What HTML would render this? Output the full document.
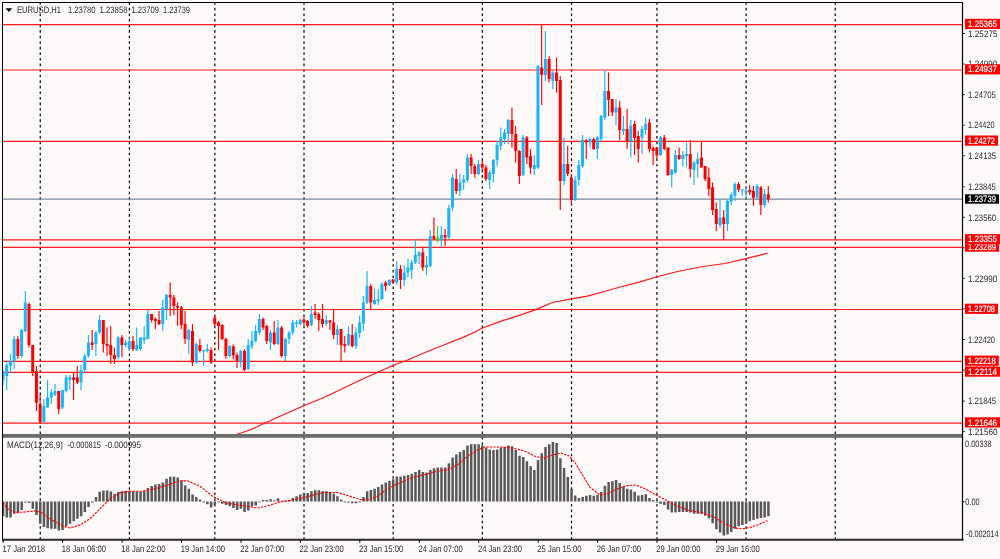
<!DOCTYPE html><html><head><meta charset="utf-8"><title>EURUSD H1</title>
<style>html,body{margin:0;padding:0;background:#fdf9f8;}body{width:1000px;height:559px;overflow:hidden;position:relative;font-family:"Liberation Sans","DejaVu Sans",sans-serif;}svg{position:absolute;left:0;top:0;}text{font-family:"Liberation Sans","DejaVu Sans",sans-serif;text-rendering:geometricPrecision;}</style></head><body>
<svg width="1000" height="559" viewBox="0 0 1000 559">
<defs><filter id="soft" x="0" y="0" width="1000" height="559" filterUnits="userSpaceOnUse" color-interpolation-filters="sRGB"><feColorMatrix type="matrix" values="1 0 0 0 0 0 1 0 0 0 0 0 1 0 0 0 0 0 1 0"/></filter></defs>
<rect x="0" y="0" width="1000" height="559" fill="#fdf9f8"/>
<g filter="url(#soft)">
<g stroke="#000" stroke-width="1.2" stroke-dasharray="2.6 2.974">
<line x1="40.25" y1="2.25" x2="40.25" y2="539.5" />
<line x1="129.41" y1="2.25" x2="129.41" y2="539.5" />
<line x1="214.85" y1="2.25" x2="214.85" y2="539.5" />
<line x1="304.01" y1="2.25" x2="304.01" y2="539.5" />
<line x1="393.18" y1="2.25" x2="393.18" y2="539.5" />
<line x1="482.33" y1="2.25" x2="482.33" y2="539.5" />
<line x1="571.50" y1="2.25" x2="571.50" y2="539.5" />
<line x1="656.94" y1="2.25" x2="656.94" y2="539.5" />
<line x1="746.10" y1="2.25" x2="746.10" y2="539.5" />
<line x1="835.26" y1="2.25" x2="835.26" y2="539.5" />
</g>
<line x1="3" y1="199.1" x2="962" y2="199.1" stroke="#7a899c" stroke-width="1.1"/>
<line x1="3" y1="24.6" x2="962" y2="24.6" stroke="#ff1a1a" stroke-width="1.15"/>
<line x1="3" y1="70.0" x2="962" y2="70.0" stroke="#ff1a1a" stroke-width="1.15"/>
<line x1="3" y1="141.3" x2="962" y2="141.3" stroke="#ff1a1a" stroke-width="1.15"/>
<line x1="3" y1="239.9" x2="962" y2="239.9" stroke="#ff1a1a" stroke-width="1.15"/>
<line x1="3" y1="247.3" x2="962" y2="247.3" stroke="#ff1a1a" stroke-width="1.15"/>
<line x1="3" y1="309.5" x2="962" y2="309.5" stroke="#ff1a1a" stroke-width="1.15"/>
<line x1="3" y1="361.4" x2="962" y2="361.4" stroke="#ff1a1a" stroke-width="1.15"/>
<line x1="3" y1="372.3" x2="962" y2="372.3" stroke="#ff1a1a" stroke-width="1.15"/>
<line x1="3" y1="423.1" x2="962" y2="423.1" stroke="#ff1a1a" stroke-width="1.15"/>
<polyline fill="none" stroke="#ff1818" stroke-width="1.25" stroke-linejoin="round" points="236.2,434.5 250.0,430.0 265.0,423.0 280.0,416.2 303.8,405.8 325.0,397.0 350.0,385.0 365.0,378.0 380.0,371.2 393.0,365.5 407.5,360.0 425.0,352.5 445.0,344.5 462.5,337.6 475.0,332.0 482.5,328.0 502.5,320.7 520.0,315.2 535.0,309.8 552.5,302.5 570.0,299.2 587.5,296.2 602.5,292.0 620.0,287.0 640.0,281.8 656.2,277.0 677.5,271.5 700.0,267.0 725.0,263.5 745.0,258.8 767.5,253.2"/>
<g>
<line x1="3.00" y1="370.0" x2="3.00" y2="385.0" stroke="#18b4fc" stroke-width="1.15"/>
<rect x="1.50" y="372.0" width="3" height="8.0" fill="#18b4fc"/>
<line x1="6.71" y1="360.3" x2="6.71" y2="390.0" stroke="#18b4fc" stroke-width="1.15"/>
<rect x="5.21" y="365.0" width="3" height="11.0" fill="#18b4fc"/>
<line x1="10.43" y1="354.0" x2="10.43" y2="372.8" stroke="#18b4fc" stroke-width="1.15"/>
<rect x="8.93" y="361.5" width="3" height="4.3" fill="#18b4fc"/>
<line x1="14.14" y1="336.0" x2="14.14" y2="369.0" stroke="#18b4fc" stroke-width="1.15"/>
<rect x="12.64" y="339.0" width="3" height="22.0" fill="#18b4fc"/>
<line x1="17.86" y1="336.0" x2="17.86" y2="359.0" stroke="#ff0000" stroke-width="1.15"/>
<rect x="16.36" y="339.0" width="3" height="17.0" fill="#ff0000"/>
<line x1="21.57" y1="329.0" x2="21.57" y2="357.5" stroke="#18b4fc" stroke-width="1.15"/>
<rect x="20.07" y="330.0" width="3" height="26.0" fill="#18b4fc"/>
<line x1="25.29" y1="291.0" x2="25.29" y2="332.5" stroke="#18b4fc" stroke-width="1.15"/>
<rect x="23.79" y="302.5" width="3" height="28.5" fill="#18b4fc"/>
<line x1="29.00" y1="302.5" x2="29.00" y2="347.5" stroke="#ff0000" stroke-width="1.15"/>
<rect x="27.50" y="304.0" width="3" height="41.0" fill="#ff0000"/>
<line x1="32.72" y1="345.0" x2="32.72" y2="376.0" stroke="#ff0000" stroke-width="1.15"/>
<rect x="31.22" y="345.0" width="3" height="27.5" fill="#ff0000"/>
<line x1="36.44" y1="366.0" x2="36.44" y2="411.0" stroke="#ff0000" stroke-width="1.15"/>
<rect x="34.94" y="371.0" width="3" height="31.7" fill="#ff0000"/>
<line x1="40.15" y1="395.0" x2="40.15" y2="424.0" stroke="#ff0000" stroke-width="1.15"/>
<rect x="38.65" y="404.0" width="3" height="18.0" fill="#ff0000"/>
<line x1="43.86" y1="399.0" x2="43.86" y2="422.5" stroke="#18b4fc" stroke-width="1.15"/>
<rect x="42.36" y="406.0" width="3" height="16.0" fill="#18b4fc"/>
<line x1="47.58" y1="380.0" x2="47.58" y2="407.5" stroke="#18b4fc" stroke-width="1.15"/>
<rect x="46.08" y="397.5" width="3" height="10.0" fill="#18b4fc"/>
<line x1="51.30" y1="389.0" x2="51.30" y2="404.0" stroke="#18b4fc" stroke-width="1.15"/>
<rect x="49.80" y="392.5" width="3" height="5.0" fill="#18b4fc"/>
<line x1="55.01" y1="384.0" x2="55.01" y2="396.0" stroke="#18b4fc" stroke-width="1.15"/>
<rect x="53.51" y="391.0" width="3" height="4.0" fill="#18b4fc"/>
<line x1="58.72" y1="391.0" x2="58.72" y2="414.0" stroke="#ff0000" stroke-width="1.15"/>
<rect x="57.22" y="391.0" width="3" height="18.0" fill="#ff0000"/>
<line x1="62.44" y1="390.0" x2="62.44" y2="409.0" stroke="#18b4fc" stroke-width="1.15"/>
<rect x="60.94" y="390.0" width="3" height="17.5" fill="#18b4fc"/>
<line x1="66.16" y1="375.0" x2="66.16" y2="392.5" stroke="#18b4fc" stroke-width="1.15"/>
<rect x="64.66" y="377.5" width="3" height="13.5" fill="#18b4fc"/>
<line x1="69.87" y1="375.0" x2="69.87" y2="390.0" stroke="#18b4fc" stroke-width="1.15"/>
<rect x="68.37" y="377.0" width="3" height="3.0" fill="#18b4fc"/>
<line x1="73.58" y1="372.5" x2="73.58" y2="400.0" stroke="#ff0000" stroke-width="1.15"/>
<rect x="72.08" y="377.5" width="3" height="2.5" fill="#ff0000"/>
<line x1="77.30" y1="366.0" x2="77.30" y2="384.0" stroke="#ff0000" stroke-width="1.15"/>
<rect x="75.80" y="377.5" width="3" height="5.0" fill="#ff0000"/>
<line x1="81.02" y1="365.0" x2="81.02" y2="390.0" stroke="#18b4fc" stroke-width="1.15"/>
<rect x="79.52" y="370.0" width="3" height="12.5" fill="#18b4fc"/>
<line x1="84.73" y1="354.0" x2="84.73" y2="372.5" stroke="#18b4fc" stroke-width="1.15"/>
<rect x="83.23" y="356.0" width="3" height="14.0" fill="#18b4fc"/>
<line x1="88.44" y1="335.0" x2="88.44" y2="357.5" stroke="#18b4fc" stroke-width="1.15"/>
<rect x="86.94" y="342.5" width="3" height="13.5" fill="#18b4fc"/>
<line x1="92.16" y1="330.0" x2="92.16" y2="350.0" stroke="#ff0000" stroke-width="1.15"/>
<rect x="90.66" y="342.5" width="3" height="2.5" fill="#ff0000"/>
<line x1="95.88" y1="331.0" x2="95.88" y2="356.0" stroke="#18b4fc" stroke-width="1.15"/>
<rect x="94.38" y="332.5" width="3" height="11.5" fill="#18b4fc"/>
<line x1="99.59" y1="315.0" x2="99.59" y2="334.0" stroke="#18b4fc" stroke-width="1.15"/>
<rect x="98.09" y="320.0" width="3" height="12.5" fill="#18b4fc"/>
<line x1="103.30" y1="320.0" x2="103.30" y2="352.5" stroke="#ff0000" stroke-width="1.15"/>
<rect x="101.80" y="320.0" width="3" height="24.0" fill="#ff0000"/>
<line x1="107.02" y1="327.5" x2="107.02" y2="356.0" stroke="#ff0000" stroke-width="1.15"/>
<rect x="105.52" y="344.0" width="3" height="2.0" fill="#ff0000"/>
<line x1="110.73" y1="326.0" x2="110.73" y2="364.0" stroke="#ff0000" stroke-width="1.15"/>
<rect x="109.23" y="345.0" width="3" height="10.0" fill="#ff0000"/>
<line x1="114.45" y1="347.5" x2="114.45" y2="364.0" stroke="#ff0000" stroke-width="1.15"/>
<rect x="112.95" y="355.0" width="3" height="4.0" fill="#ff0000"/>
<line x1="118.16" y1="336.0" x2="118.16" y2="359.0" stroke="#18b4fc" stroke-width="1.15"/>
<rect x="116.66" y="337.5" width="3" height="20.0" fill="#18b4fc"/>
<line x1="121.88" y1="335.0" x2="121.88" y2="357.0" stroke="#ff0000" stroke-width="1.15"/>
<rect x="120.38" y="337.5" width="3" height="7.5" fill="#ff0000"/>
<line x1="125.59" y1="340.0" x2="125.59" y2="347.5" stroke="#18b4fc" stroke-width="1.15"/>
<rect x="124.09" y="342.5" width="3" height="2.5" fill="#18b4fc"/>
<line x1="129.31" y1="337.5" x2="129.31" y2="350.0" stroke="#18b4fc" stroke-width="1.15"/>
<rect x="127.81" y="341.0" width="3" height="8.0" fill="#18b4fc"/>
<line x1="133.03" y1="336.0" x2="133.03" y2="351.0" stroke="#ff0000" stroke-width="1.15"/>
<rect x="131.53" y="341.0" width="3" height="8.0" fill="#ff0000"/>
<line x1="136.74" y1="327.5" x2="136.74" y2="351.0" stroke="#18b4fc" stroke-width="1.15"/>
<rect x="135.24" y="345.0" width="3" height="5.0" fill="#18b4fc"/>
<line x1="140.45" y1="337.5" x2="140.45" y2="351.0" stroke="#18b4fc" stroke-width="1.15"/>
<rect x="138.95" y="337.5" width="3" height="11.5" fill="#18b4fc"/>
<line x1="144.17" y1="326.0" x2="144.17" y2="344.0" stroke="#18b4fc" stroke-width="1.15"/>
<rect x="142.67" y="337.5" width="3" height="2.5" fill="#18b4fc"/>
<line x1="147.88" y1="310.0" x2="147.88" y2="339.0" stroke="#18b4fc" stroke-width="1.15"/>
<rect x="146.38" y="314.0" width="3" height="25.0" fill="#18b4fc"/>
<line x1="151.60" y1="314.0" x2="151.60" y2="322.5" stroke="#ff0000" stroke-width="1.15"/>
<rect x="150.10" y="314.0" width="3" height="6.0" fill="#ff0000"/>
<line x1="155.31" y1="317.5" x2="155.31" y2="329.0" stroke="#ff0000" stroke-width="1.15"/>
<rect x="153.81" y="319.0" width="3" height="2.0" fill="#ff0000"/>
<line x1="159.03" y1="311.0" x2="159.03" y2="325.0" stroke="#ff0000" stroke-width="1.15"/>
<rect x="157.53" y="320.0" width="3" height="4.0" fill="#ff0000"/>
<line x1="162.75" y1="300.0" x2="162.75" y2="331.0" stroke="#18b4fc" stroke-width="1.15"/>
<rect x="161.25" y="307.5" width="3" height="16.5" fill="#18b4fc"/>
<line x1="166.46" y1="294.0" x2="166.46" y2="320.0" stroke="#18b4fc" stroke-width="1.15"/>
<rect x="164.96" y="295.0" width="3" height="14.0" fill="#18b4fc"/>
<line x1="170.17" y1="282.5" x2="170.17" y2="316.0" stroke="#ff0000" stroke-width="1.15"/>
<rect x="168.67" y="295.0" width="3" height="2.5" fill="#ff0000"/>
<line x1="173.89" y1="295.0" x2="173.89" y2="315.0" stroke="#ff0000" stroke-width="1.15"/>
<rect x="172.39" y="297.5" width="3" height="8.5" fill="#ff0000"/>
<line x1="177.60" y1="302.5" x2="177.60" y2="326.0" stroke="#ff0000" stroke-width="1.15"/>
<rect x="176.10" y="306.0" width="3" height="1.5" fill="#ff0000"/>
<line x1="181.32" y1="306.0" x2="181.32" y2="329.0" stroke="#ff0000" stroke-width="1.15"/>
<rect x="179.82" y="307.5" width="3" height="17.5" fill="#ff0000"/>
<line x1="185.03" y1="311.0" x2="185.03" y2="344.0" stroke="#ff0000" stroke-width="1.15"/>
<rect x="183.53" y="324.0" width="3" height="15.0" fill="#ff0000"/>
<line x1="188.75" y1="329.0" x2="188.75" y2="354.0" stroke="#18b4fc" stroke-width="1.15"/>
<rect x="187.25" y="330.0" width="3" height="10.0" fill="#18b4fc"/>
<line x1="192.47" y1="324.0" x2="192.47" y2="366.0" stroke="#ff0000" stroke-width="1.15"/>
<rect x="190.97" y="331.0" width="3" height="31.5" fill="#ff0000"/>
<line x1="196.18" y1="342.5" x2="196.18" y2="364.0" stroke="#18b4fc" stroke-width="1.15"/>
<rect x="194.68" y="344.0" width="3" height="18.5" fill="#18b4fc"/>
<line x1="199.89" y1="339.0" x2="199.89" y2="352.5" stroke="#ff0000" stroke-width="1.15"/>
<rect x="198.39" y="345.0" width="3" height="6.0" fill="#ff0000"/>
<line x1="203.61" y1="350.0" x2="203.61" y2="366.0" stroke="#18b4fc" stroke-width="1.15"/>
<rect x="202.11" y="350.0" width="3" height="1.5" fill="#18b4fc"/>
<line x1="207.32" y1="344.0" x2="207.32" y2="352.5" stroke="#18b4fc" stroke-width="1.15"/>
<rect x="205.82" y="349.0" width="3" height="2.0" fill="#18b4fc"/>
<line x1="211.04" y1="347.5" x2="211.04" y2="364.0" stroke="#ff0000" stroke-width="1.15"/>
<rect x="209.54" y="350.0" width="3" height="12.5" fill="#ff0000"/>
<line x1="214.75" y1="316.0" x2="214.75" y2="326.0" stroke="#ff0000" stroke-width="1.15"/>
<rect x="213.25" y="317.5" width="3" height="6.5" fill="#ff0000"/>
<line x1="218.47" y1="321.0" x2="218.47" y2="350.0" stroke="#ff0000" stroke-width="1.15"/>
<rect x="216.97" y="322.5" width="3" height="3.5" fill="#ff0000"/>
<line x1="222.19" y1="324.0" x2="222.19" y2="340.0" stroke="#ff0000" stroke-width="1.15"/>
<rect x="220.69" y="325.0" width="3" height="14.0" fill="#ff0000"/>
<line x1="225.90" y1="337.5" x2="225.90" y2="359.0" stroke="#ff0000" stroke-width="1.15"/>
<rect x="224.40" y="339.0" width="3" height="17.0" fill="#ff0000"/>
<line x1="229.61" y1="345.0" x2="229.61" y2="357.5" stroke="#18b4fc" stroke-width="1.15"/>
<rect x="228.11" y="346.0" width="3" height="10.0" fill="#18b4fc"/>
<line x1="233.33" y1="344.5" x2="233.33" y2="359.5" stroke="#ff0000" stroke-width="1.15"/>
<rect x="231.83" y="346.4" width="3" height="8.9" fill="#ff0000"/>
<line x1="237.04" y1="352.5" x2="237.04" y2="368.0" stroke="#ff0000" stroke-width="1.15"/>
<rect x="235.54" y="355.0" width="3" height="6.0" fill="#ff0000"/>
<line x1="240.76" y1="350.0" x2="240.76" y2="367.5" stroke="#18b4fc" stroke-width="1.15"/>
<rect x="239.26" y="351.0" width="3" height="11.5" fill="#18b4fc"/>
<line x1="244.47" y1="349.0" x2="244.47" y2="371.0" stroke="#ff0000" stroke-width="1.15"/>
<rect x="242.97" y="351.0" width="3" height="19.0" fill="#ff0000"/>
<line x1="248.19" y1="339.0" x2="248.19" y2="370.0" stroke="#18b4fc" stroke-width="1.15"/>
<rect x="246.69" y="345.0" width="3" height="24.0" fill="#18b4fc"/>
<line x1="251.91" y1="331.0" x2="251.91" y2="349.0" stroke="#18b4fc" stroke-width="1.15"/>
<rect x="250.41" y="340.8" width="3" height="5.6" fill="#18b4fc"/>
<line x1="255.62" y1="325.0" x2="255.62" y2="342.5" stroke="#18b4fc" stroke-width="1.15"/>
<rect x="254.12" y="331.0" width="3" height="10.0" fill="#18b4fc"/>
<line x1="259.33" y1="314.0" x2="259.33" y2="335.0" stroke="#18b4fc" stroke-width="1.15"/>
<rect x="257.83" y="319.0" width="3" height="13.5" fill="#18b4fc"/>
<line x1="263.05" y1="317.5" x2="263.05" y2="330.0" stroke="#ff0000" stroke-width="1.15"/>
<rect x="261.55" y="319.0" width="3" height="8.5" fill="#ff0000"/>
<line x1="266.76" y1="325.0" x2="266.76" y2="344.0" stroke="#ff0000" stroke-width="1.15"/>
<rect x="265.26" y="326.0" width="3" height="15.0" fill="#ff0000"/>
<line x1="270.48" y1="330.0" x2="270.48" y2="350.0" stroke="#18b4fc" stroke-width="1.15"/>
<rect x="268.98" y="332.5" width="3" height="10.0" fill="#18b4fc"/>
<line x1="274.19" y1="321.0" x2="274.19" y2="345.0" stroke="#ff0000" stroke-width="1.15"/>
<rect x="272.69" y="332.5" width="3" height="11.5" fill="#ff0000"/>
<line x1="277.91" y1="320.0" x2="277.91" y2="345.0" stroke="#18b4fc" stroke-width="1.15"/>
<rect x="276.41" y="327.5" width="3" height="16.5" fill="#18b4fc"/>
<line x1="281.62" y1="326.0" x2="281.62" y2="357.5" stroke="#ff0000" stroke-width="1.15"/>
<rect x="280.12" y="327.5" width="3" height="28.5" fill="#ff0000"/>
<line x1="285.34" y1="337.5" x2="285.34" y2="361.0" stroke="#18b4fc" stroke-width="1.15"/>
<rect x="283.84" y="339.0" width="3" height="17.0" fill="#18b4fc"/>
<line x1="289.06" y1="331.0" x2="289.06" y2="344.0" stroke="#18b4fc" stroke-width="1.15"/>
<rect x="287.56" y="332.5" width="3" height="6.5" fill="#18b4fc"/>
<line x1="292.77" y1="320.0" x2="292.77" y2="335.0" stroke="#18b4fc" stroke-width="1.15"/>
<rect x="291.27" y="322.5" width="3" height="10.0" fill="#18b4fc"/>
<line x1="296.49" y1="320.0" x2="296.49" y2="327.5" stroke="#18b4fc" stroke-width="1.15"/>
<rect x="294.99" y="322.5" width="3" height="1.5" fill="#18b4fc"/>
<line x1="300.20" y1="319.0" x2="300.20" y2="325.0" stroke="#18b4fc" stroke-width="1.15"/>
<rect x="298.70" y="320.0" width="3" height="4.0" fill="#18b4fc"/>
<line x1="303.91" y1="317.5" x2="303.91" y2="325.0" stroke="#ff0000" stroke-width="1.15"/>
<rect x="302.41" y="319.5" width="3" height="3.0" fill="#ff0000"/>
<line x1="307.63" y1="320.0" x2="307.63" y2="327.5" stroke="#ff0000" stroke-width="1.15"/>
<rect x="306.13" y="321.0" width="3" height="5.0" fill="#ff0000"/>
<line x1="311.34" y1="306.0" x2="311.34" y2="326.0" stroke="#18b4fc" stroke-width="1.15"/>
<rect x="309.84" y="314.0" width="3" height="11.0" fill="#18b4fc"/>
<line x1="315.06" y1="304.0" x2="315.06" y2="319.0" stroke="#ff0000" stroke-width="1.15"/>
<rect x="313.56" y="312.5" width="3" height="2.5" fill="#ff0000"/>
<line x1="318.77" y1="312.5" x2="318.77" y2="331.0" stroke="#ff0000" stroke-width="1.15"/>
<rect x="317.27" y="314.0" width="3" height="6.0" fill="#ff0000"/>
<line x1="322.49" y1="304.0" x2="322.49" y2="327.5" stroke="#ff0000" stroke-width="1.15"/>
<rect x="320.99" y="319.0" width="3" height="5.0" fill="#ff0000"/>
<line x1="326.20" y1="315.0" x2="326.20" y2="326.0" stroke="#18b4fc" stroke-width="1.15"/>
<rect x="324.70" y="320.0" width="3" height="4.0" fill="#18b4fc"/>
<line x1="329.92" y1="320.0" x2="329.92" y2="330.0" stroke="#ff0000" stroke-width="1.15"/>
<rect x="328.42" y="320.5" width="3" height="2.0" fill="#ff0000"/>
<line x1="333.63" y1="310.0" x2="333.63" y2="339.0" stroke="#ff0000" stroke-width="1.15"/>
<rect x="332.13" y="322.5" width="3" height="12.5" fill="#ff0000"/>
<line x1="337.35" y1="325.0" x2="337.35" y2="345.0" stroke="#18b4fc" stroke-width="1.15"/>
<rect x="335.85" y="329.0" width="3" height="6.0" fill="#18b4fc"/>
<line x1="341.06" y1="329.0" x2="341.06" y2="361.0" stroke="#ff0000" stroke-width="1.15"/>
<rect x="339.56" y="329.0" width="3" height="16.0" fill="#ff0000"/>
<line x1="344.78" y1="336.0" x2="344.78" y2="352.5" stroke="#ff0000" stroke-width="1.15"/>
<rect x="343.28" y="344.0" width="3" height="2.0" fill="#ff0000"/>
<line x1="348.50" y1="326.0" x2="348.50" y2="346.0" stroke="#18b4fc" stroke-width="1.15"/>
<rect x="347.00" y="334.0" width="3" height="11.0" fill="#18b4fc"/>
<line x1="352.21" y1="324.0" x2="352.21" y2="347.5" stroke="#ff0000" stroke-width="1.15"/>
<rect x="350.71" y="335.0" width="3" height="11.0" fill="#ff0000"/>
<line x1="355.93" y1="327.5" x2="355.93" y2="349.0" stroke="#18b4fc" stroke-width="1.15"/>
<rect x="354.43" y="332.5" width="3" height="13.5" fill="#18b4fc"/>
<line x1="359.64" y1="315.5" x2="359.64" y2="338.0" stroke="#18b4fc" stroke-width="1.15"/>
<rect x="358.14" y="322.5" width="3" height="10.5" fill="#18b4fc"/>
<line x1="363.35" y1="296.0" x2="363.35" y2="331.0" stroke="#18b4fc" stroke-width="1.15"/>
<rect x="361.85" y="302.4" width="3" height="21.1" fill="#18b4fc"/>
<line x1="367.07" y1="271.0" x2="367.07" y2="304.0" stroke="#18b4fc" stroke-width="1.15"/>
<rect x="365.57" y="286.0" width="3" height="16.5" fill="#18b4fc"/>
<line x1="370.78" y1="284.0" x2="370.78" y2="310.0" stroke="#ff0000" stroke-width="1.15"/>
<rect x="369.28" y="286.0" width="3" height="16.5" fill="#ff0000"/>
<line x1="374.50" y1="289.0" x2="374.50" y2="305.0" stroke="#18b4fc" stroke-width="1.15"/>
<rect x="373.00" y="300.0" width="3" height="4.0" fill="#18b4fc"/>
<line x1="378.21" y1="289.0" x2="378.21" y2="305.0" stroke="#18b4fc" stroke-width="1.15"/>
<rect x="376.71" y="299.0" width="3" height="2.0" fill="#18b4fc"/>
<line x1="381.93" y1="282.5" x2="381.93" y2="300.0" stroke="#18b4fc" stroke-width="1.15"/>
<rect x="380.43" y="284.0" width="3" height="15.0" fill="#18b4fc"/>
<line x1="385.64" y1="281.0" x2="385.64" y2="291.0" stroke="#ff0000" stroke-width="1.15"/>
<rect x="384.14" y="282.5" width="3" height="3.5" fill="#ff0000"/>
<line x1="389.36" y1="279.0" x2="389.36" y2="286.0" stroke="#18b4fc" stroke-width="1.15"/>
<rect x="387.86" y="280.0" width="3" height="5.0" fill="#18b4fc"/>
<line x1="393.07" y1="279.0" x2="393.07" y2="284.0" stroke="#ff0000" stroke-width="1.15"/>
<rect x="391.57" y="279.5" width="3" height="3.0" fill="#ff0000"/>
<line x1="396.79" y1="261.0" x2="396.79" y2="285.0" stroke="#18b4fc" stroke-width="1.15"/>
<rect x="395.29" y="269.0" width="3" height="13.5" fill="#18b4fc"/>
<line x1="400.50" y1="265.0" x2="400.50" y2="289.0" stroke="#ff0000" stroke-width="1.15"/>
<rect x="399.00" y="269.0" width="3" height="11.0" fill="#ff0000"/>
<line x1="404.22" y1="265.0" x2="404.22" y2="286.0" stroke="#18b4fc" stroke-width="1.15"/>
<rect x="402.72" y="272.5" width="3" height="7.5" fill="#18b4fc"/>
<line x1="407.94" y1="259.0" x2="407.94" y2="277.5" stroke="#18b4fc" stroke-width="1.15"/>
<rect x="406.44" y="267.5" width="3" height="5.0" fill="#18b4fc"/>
<line x1="411.65" y1="260.0" x2="411.65" y2="279.0" stroke="#18b4fc" stroke-width="1.15"/>
<rect x="410.15" y="262.5" width="3" height="7.5" fill="#18b4fc"/>
<line x1="415.37" y1="240.0" x2="415.37" y2="264.0" stroke="#18b4fc" stroke-width="1.15"/>
<rect x="413.87" y="255.0" width="3" height="7.5" fill="#18b4fc"/>
<line x1="419.08" y1="251.0" x2="419.08" y2="264.0" stroke="#18b4fc" stroke-width="1.15"/>
<rect x="417.58" y="252.5" width="3" height="3.5" fill="#18b4fc"/>
<line x1="422.79" y1="247.5" x2="422.79" y2="271.0" stroke="#ff0000" stroke-width="1.15"/>
<rect x="421.29" y="252.5" width="3" height="15.0" fill="#ff0000"/>
<line x1="426.51" y1="256.0" x2="426.51" y2="275.0" stroke="#18b4fc" stroke-width="1.15"/>
<rect x="425.01" y="265.0" width="3" height="2.5" fill="#18b4fc"/>
<line x1="430.22" y1="230.0" x2="430.22" y2="267.5" stroke="#18b4fc" stroke-width="1.15"/>
<rect x="428.72" y="236.0" width="3" height="30.0" fill="#18b4fc"/>
<line x1="433.94" y1="217.5" x2="433.94" y2="240.0" stroke="#ff0000" stroke-width="1.15"/>
<rect x="432.44" y="236.0" width="3" height="3.0" fill="#ff0000"/>
<line x1="437.65" y1="226.0" x2="437.65" y2="242.5" stroke="#22dd22" stroke-width="1.15"/>
<rect x="436.15" y="237.5" width="3" height="2.5" fill="#22dd22"/>
<line x1="441.37" y1="226.0" x2="441.37" y2="247.5" stroke="#18b4fc" stroke-width="1.15"/>
<rect x="439.87" y="235.0" width="3" height="5.0" fill="#18b4fc"/>
<line x1="445.08" y1="229.0" x2="445.08" y2="246.0" stroke="#ff0000" stroke-width="1.15"/>
<rect x="443.58" y="235.0" width="3" height="2.5" fill="#ff0000"/>
<line x1="448.80" y1="205.0" x2="448.80" y2="239.0" stroke="#18b4fc" stroke-width="1.15"/>
<rect x="447.30" y="208.0" width="3" height="29.5" fill="#18b4fc"/>
<line x1="452.51" y1="174.0" x2="452.51" y2="211.0" stroke="#18b4fc" stroke-width="1.15"/>
<rect x="451.01" y="177.5" width="3" height="30.0" fill="#18b4fc"/>
<line x1="456.23" y1="169.0" x2="456.23" y2="194.0" stroke="#ff0000" stroke-width="1.15"/>
<rect x="454.73" y="179.0" width="3" height="12.0" fill="#ff0000"/>
<line x1="459.94" y1="174.0" x2="459.94" y2="196.0" stroke="#18b4fc" stroke-width="1.15"/>
<rect x="458.44" y="182.5" width="3" height="8.5" fill="#18b4fc"/>
<line x1="463.66" y1="175.0" x2="463.66" y2="190.0" stroke="#18b4fc" stroke-width="1.15"/>
<rect x="462.16" y="179.5" width="3" height="3.0" fill="#18b4fc"/>
<line x1="467.38" y1="154.0" x2="467.38" y2="182.5" stroke="#18b4fc" stroke-width="1.15"/>
<rect x="465.88" y="157.5" width="3" height="22.5" fill="#18b4fc"/>
<line x1="471.09" y1="154.0" x2="471.09" y2="174.0" stroke="#ff0000" stroke-width="1.15"/>
<rect x="469.59" y="157.5" width="3" height="8.5" fill="#ff0000"/>
<line x1="474.81" y1="164.0" x2="474.81" y2="177.5" stroke="#ff0000" stroke-width="1.15"/>
<rect x="473.31" y="166.0" width="3" height="8.0" fill="#ff0000"/>
<line x1="478.52" y1="160.0" x2="478.52" y2="175.0" stroke="#18b4fc" stroke-width="1.15"/>
<rect x="477.02" y="164.0" width="3" height="10.0" fill="#18b4fc"/>
<line x1="482.23" y1="160.0" x2="482.23" y2="172.5" stroke="#ff0000" stroke-width="1.15"/>
<rect x="480.73" y="164.0" width="3" height="3.5" fill="#ff0000"/>
<line x1="485.95" y1="165.0" x2="485.95" y2="181.0" stroke="#ff0000" stroke-width="1.15"/>
<rect x="484.45" y="167.5" width="3" height="11.5" fill="#ff0000"/>
<line x1="489.66" y1="170.0" x2="489.66" y2="189.0" stroke="#18b4fc" stroke-width="1.15"/>
<rect x="488.16" y="172.5" width="3" height="7.5" fill="#18b4fc"/>
<line x1="493.38" y1="159.0" x2="493.38" y2="182.5" stroke="#18b4fc" stroke-width="1.15"/>
<rect x="491.88" y="160.0" width="3" height="14.0" fill="#18b4fc"/>
<line x1="497.09" y1="141.0" x2="497.09" y2="166.0" stroke="#18b4fc" stroke-width="1.15"/>
<rect x="495.59" y="145.0" width="3" height="15.0" fill="#18b4fc"/>
<line x1="500.81" y1="127.5" x2="500.81" y2="150.0" stroke="#18b4fc" stroke-width="1.15"/>
<rect x="499.31" y="137.5" width="3" height="8.5" fill="#18b4fc"/>
<line x1="504.52" y1="129.0" x2="504.52" y2="144.0" stroke="#18b4fc" stroke-width="1.15"/>
<rect x="503.02" y="132.5" width="3" height="6.5" fill="#18b4fc"/>
<line x1="508.24" y1="119.0" x2="508.24" y2="144.0" stroke="#18b4fc" stroke-width="1.15"/>
<rect x="506.74" y="120.0" width="3" height="14.0" fill="#18b4fc"/>
<line x1="511.95" y1="107.5" x2="511.95" y2="147.5" stroke="#ff0000" stroke-width="1.15"/>
<rect x="510.45" y="120.0" width="3" height="14.0" fill="#ff0000"/>
<line x1="515.67" y1="126.0" x2="515.67" y2="162.5" stroke="#ff0000" stroke-width="1.15"/>
<rect x="514.17" y="134.0" width="3" height="17.0" fill="#ff0000"/>
<line x1="519.38" y1="150.0" x2="519.38" y2="184.0" stroke="#ff0000" stroke-width="1.15"/>
<rect x="517.88" y="151.0" width="3" height="25.0" fill="#ff0000"/>
<line x1="523.10" y1="135.0" x2="523.10" y2="176.0" stroke="#18b4fc" stroke-width="1.15"/>
<rect x="521.60" y="137.5" width="3" height="37.5" fill="#18b4fc"/>
<line x1="526.81" y1="136.0" x2="526.81" y2="164.0" stroke="#ff0000" stroke-width="1.15"/>
<rect x="525.31" y="137.5" width="3" height="20.0" fill="#ff0000"/>
<line x1="530.53" y1="149.0" x2="530.53" y2="174.0" stroke="#ff0000" stroke-width="1.15"/>
<rect x="529.03" y="156.0" width="3" height="11.5" fill="#ff0000"/>
<line x1="534.25" y1="155.0" x2="534.25" y2="175.0" stroke="#18b4fc" stroke-width="1.15"/>
<rect x="532.75" y="165.0" width="3" height="4.0" fill="#18b4fc"/>
<line x1="537.96" y1="65.0" x2="537.96" y2="169.0" stroke="#18b4fc" stroke-width="1.15"/>
<rect x="536.46" y="66.0" width="3" height="101.5" fill="#18b4fc"/>
<line x1="541.67" y1="24.5" x2="541.67" y2="105.0" stroke="#ff0000" stroke-width="1.15"/>
<rect x="540.17" y="67.5" width="3" height="7.5" fill="#ff0000"/>
<line x1="545.39" y1="31.0" x2="545.39" y2="81.0" stroke="#18b4fc" stroke-width="1.15"/>
<rect x="543.89" y="59.0" width="3" height="16.0" fill="#18b4fc"/>
<line x1="549.11" y1="56.0" x2="549.11" y2="82.5" stroke="#ff0000" stroke-width="1.15"/>
<rect x="547.61" y="59.0" width="3" height="20.0" fill="#ff0000"/>
<line x1="552.82" y1="71.0" x2="552.82" y2="89.0" stroke="#18b4fc" stroke-width="1.15"/>
<rect x="551.32" y="72.5" width="3" height="8.5" fill="#18b4fc"/>
<line x1="556.53" y1="57.5" x2="556.53" y2="92.5" stroke="#ff0000" stroke-width="1.15"/>
<rect x="555.03" y="72.5" width="3" height="8.5" fill="#ff0000"/>
<line x1="560.25" y1="76.0" x2="560.25" y2="210.0" stroke="#ff0000" stroke-width="1.15"/>
<rect x="558.75" y="80.0" width="3" height="101.0" fill="#ff0000"/>
<line x1="563.97" y1="138.0" x2="563.97" y2="185.0" stroke="#18b4fc" stroke-width="1.15"/>
<rect x="562.47" y="164.0" width="3" height="17.0" fill="#18b4fc"/>
<line x1="567.68" y1="146.0" x2="567.68" y2="176.0" stroke="#ff0000" stroke-width="1.15"/>
<rect x="566.18" y="164.0" width="3" height="10.0" fill="#ff0000"/>
<line x1="571.39" y1="174.0" x2="571.39" y2="204.0" stroke="#ff0000" stroke-width="1.15"/>
<rect x="569.89" y="177.5" width="3" height="22.5" fill="#ff0000"/>
<line x1="575.11" y1="176.0" x2="575.11" y2="201.0" stroke="#18b4fc" stroke-width="1.15"/>
<rect x="573.61" y="180.0" width="3" height="20.0" fill="#18b4fc"/>
<line x1="578.82" y1="160.0" x2="578.82" y2="186.0" stroke="#18b4fc" stroke-width="1.15"/>
<rect x="577.32" y="165.0" width="3" height="15.0" fill="#18b4fc"/>
<line x1="582.54" y1="135.0" x2="582.54" y2="167.5" stroke="#18b4fc" stroke-width="1.15"/>
<rect x="581.04" y="140.0" width="3" height="26.0" fill="#18b4fc"/>
<line x1="586.25" y1="139.0" x2="586.25" y2="159.0" stroke="#ff0000" stroke-width="1.15"/>
<rect x="584.75" y="140.0" width="3" height="2.5" fill="#ff0000"/>
<line x1="589.97" y1="137.5" x2="589.97" y2="147.5" stroke="#18b4fc" stroke-width="1.15"/>
<rect x="588.47" y="139.0" width="3" height="3.5" fill="#18b4fc"/>
<line x1="593.68" y1="137.5" x2="593.68" y2="150.0" stroke="#ff0000" stroke-width="1.15"/>
<rect x="592.18" y="139.0" width="3" height="10.0" fill="#ff0000"/>
<line x1="597.40" y1="136.0" x2="597.40" y2="159.0" stroke="#18b4fc" stroke-width="1.15"/>
<rect x="595.90" y="137.5" width="3" height="11.5" fill="#18b4fc"/>
<line x1="601.12" y1="115.0" x2="601.12" y2="141.0" stroke="#18b4fc" stroke-width="1.15"/>
<rect x="599.62" y="116.0" width="3" height="23.0" fill="#18b4fc"/>
<line x1="604.83" y1="70.0" x2="604.83" y2="120.0" stroke="#18b4fc" stroke-width="1.15"/>
<rect x="603.33" y="91.0" width="3" height="26.5" fill="#18b4fc"/>
<line x1="608.54" y1="72.5" x2="608.54" y2="116.0" stroke="#ff0000" stroke-width="1.15"/>
<rect x="607.04" y="91.0" width="3" height="8.8" fill="#ff0000"/>
<line x1="612.26" y1="99.0" x2="612.26" y2="116.0" stroke="#ff0000" stroke-width="1.15"/>
<rect x="610.76" y="99.0" width="3" height="13.5" fill="#ff0000"/>
<line x1="615.98" y1="99.0" x2="615.98" y2="125.0" stroke="#18b4fc" stroke-width="1.15"/>
<rect x="614.48" y="107.5" width="3" height="5.0" fill="#18b4fc"/>
<line x1="619.69" y1="101.0" x2="619.69" y2="140.0" stroke="#ff0000" stroke-width="1.15"/>
<rect x="618.19" y="107.5" width="3" height="22.5" fill="#ff0000"/>
<line x1="623.40" y1="116.0" x2="623.40" y2="135.0" stroke="#18b4fc" stroke-width="1.15"/>
<rect x="621.90" y="129.0" width="3" height="2.0" fill="#18b4fc"/>
<line x1="627.12" y1="109.0" x2="627.12" y2="149.0" stroke="#ff0000" stroke-width="1.15"/>
<rect x="625.62" y="129.0" width="3" height="12.0" fill="#ff0000"/>
<line x1="630.83" y1="120.0" x2="630.83" y2="157.5" stroke="#18b4fc" stroke-width="1.15"/>
<rect x="629.33" y="126.0" width="3" height="15.0" fill="#18b4fc"/>
<line x1="634.55" y1="121.0" x2="634.55" y2="155.0" stroke="#ff0000" stroke-width="1.15"/>
<rect x="633.05" y="124.0" width="3" height="14.0" fill="#ff0000"/>
<line x1="638.26" y1="131.0" x2="638.26" y2="162.5" stroke="#ff0000" stroke-width="1.15"/>
<rect x="636.76" y="136.0" width="3" height="13.0" fill="#ff0000"/>
<line x1="641.98" y1="126.0" x2="641.98" y2="154.0" stroke="#18b4fc" stroke-width="1.15"/>
<rect x="640.48" y="129.0" width="3" height="8.5" fill="#18b4fc"/>
<line x1="645.69" y1="117.5" x2="645.69" y2="135.0" stroke="#18b4fc" stroke-width="1.15"/>
<rect x="644.19" y="124.0" width="3" height="6.0" fill="#18b4fc"/>
<line x1="649.41" y1="119.0" x2="649.41" y2="152.5" stroke="#ff0000" stroke-width="1.15"/>
<rect x="647.91" y="122.5" width="3" height="26.5" fill="#ff0000"/>
<line x1="653.12" y1="146.0" x2="653.12" y2="165.0" stroke="#ff0000" stroke-width="1.15"/>
<rect x="651.62" y="148.0" width="3" height="3.0" fill="#ff0000"/>
<line x1="656.84" y1="147.0" x2="656.84" y2="159.0" stroke="#ff0000" stroke-width="1.15"/>
<rect x="655.34" y="147.5" width="3" height="8.0" fill="#ff0000"/>
<line x1="660.55" y1="136.0" x2="660.55" y2="156.0" stroke="#18b4fc" stroke-width="1.15"/>
<rect x="659.05" y="137.5" width="3" height="17.5" fill="#18b4fc"/>
<line x1="664.27" y1="135.0" x2="664.27" y2="150.0" stroke="#ff0000" stroke-width="1.15"/>
<rect x="662.77" y="137.5" width="3" height="11.5" fill="#ff0000"/>
<line x1="667.99" y1="147.5" x2="667.99" y2="176.0" stroke="#ff0000" stroke-width="1.15"/>
<rect x="666.49" y="147.5" width="3" height="27.5" fill="#ff0000"/>
<line x1="671.70" y1="169.0" x2="671.70" y2="187.5" stroke="#18b4fc" stroke-width="1.15"/>
<rect x="670.20" y="170.0" width="3" height="5.0" fill="#18b4fc"/>
<line x1="675.41" y1="150.0" x2="675.41" y2="174.0" stroke="#18b4fc" stroke-width="1.15"/>
<rect x="673.91" y="155.0" width="3" height="17.5" fill="#18b4fc"/>
<line x1="679.13" y1="147.5" x2="679.13" y2="160.0" stroke="#ff0000" stroke-width="1.15"/>
<rect x="677.63" y="155.0" width="3" height="4.0" fill="#ff0000"/>
<line x1="682.85" y1="151.0" x2="682.85" y2="166.0" stroke="#18b4fc" stroke-width="1.15"/>
<rect x="681.35" y="155.0" width="3" height="4.0" fill="#18b4fc"/>
<line x1="686.56" y1="142.5" x2="686.56" y2="167.5" stroke="#18b4fc" stroke-width="1.15"/>
<rect x="685.06" y="154.0" width="3" height="2.0" fill="#18b4fc"/>
<line x1="690.27" y1="140.0" x2="690.27" y2="177.5" stroke="#ff0000" stroke-width="1.15"/>
<rect x="688.77" y="154.0" width="3" height="15.0" fill="#ff0000"/>
<line x1="693.99" y1="161.0" x2="693.99" y2="185.0" stroke="#18b4fc" stroke-width="1.15"/>
<rect x="692.49" y="162.5" width="3" height="7.5" fill="#18b4fc"/>
<line x1="697.70" y1="152.5" x2="697.70" y2="177.5" stroke="#18b4fc" stroke-width="1.15"/>
<rect x="696.20" y="159.0" width="3" height="5.0" fill="#18b4fc"/>
<line x1="701.42" y1="141.0" x2="701.42" y2="167.5" stroke="#ff0000" stroke-width="1.15"/>
<rect x="699.92" y="157.5" width="3" height="10.0" fill="#ff0000"/>
<line x1="705.13" y1="166.0" x2="705.13" y2="181.0" stroke="#ff0000" stroke-width="1.15"/>
<rect x="703.63" y="166.0" width="3" height="13.0" fill="#ff0000"/>
<line x1="708.85" y1="167.5" x2="708.85" y2="196.0" stroke="#ff0000" stroke-width="1.15"/>
<rect x="707.35" y="177.5" width="3" height="11.5" fill="#ff0000"/>
<line x1="712.56" y1="182.5" x2="712.56" y2="215.0" stroke="#ff0000" stroke-width="1.15"/>
<rect x="711.06" y="187.5" width="3" height="22.5" fill="#ff0000"/>
<line x1="716.28" y1="202.5" x2="716.28" y2="231.0" stroke="#ff0000" stroke-width="1.15"/>
<rect x="714.78" y="209.0" width="3" height="15.0" fill="#ff0000"/>
<line x1="720.00" y1="199.0" x2="720.00" y2="227.5" stroke="#18b4fc" stroke-width="1.15"/>
<rect x="718.50" y="217.5" width="3" height="7.5" fill="#18b4fc"/>
<line x1="723.71" y1="210.0" x2="723.71" y2="239.0" stroke="#ff0000" stroke-width="1.15"/>
<rect x="722.21" y="217.5" width="3" height="6.5" fill="#ff0000"/>
<line x1="727.42" y1="200.0" x2="727.42" y2="231.0" stroke="#18b4fc" stroke-width="1.15"/>
<rect x="725.92" y="201.0" width="3" height="23.0" fill="#18b4fc"/>
<line x1="731.14" y1="192.4" x2="731.14" y2="205.0" stroke="#18b4fc" stroke-width="1.15"/>
<rect x="729.64" y="194.8" width="3" height="7.0" fill="#18b4fc"/>
<line x1="734.86" y1="182.0" x2="734.86" y2="201.0" stroke="#18b4fc" stroke-width="1.15"/>
<rect x="733.36" y="184.1" width="3" height="11.7" fill="#18b4fc"/>
<line x1="738.57" y1="182.0" x2="738.57" y2="192.0" stroke="#ff0000" stroke-width="1.15"/>
<rect x="737.07" y="184.0" width="3" height="5.6" fill="#ff0000"/>
<line x1="742.28" y1="189.2" x2="742.28" y2="195.8" stroke="#18b4fc" stroke-width="1.15"/>
<rect x="740.78" y="189.3" width="3" height="1.1" fill="#18b4fc"/>
<line x1="746.00" y1="187.0" x2="746.00" y2="197.5" stroke="#18b4fc" stroke-width="1.15"/>
<rect x="744.50" y="190.5" width="3" height="1.7" fill="#18b4fc"/>
<line x1="749.71" y1="185.0" x2="749.71" y2="195.0" stroke="#ff0000" stroke-width="1.15"/>
<rect x="748.21" y="190.0" width="3" height="2.5" fill="#ff0000"/>
<line x1="753.43" y1="186.0" x2="753.43" y2="205.8" stroke="#ff0000" stroke-width="1.15"/>
<rect x="751.93" y="191.0" width="3" height="6.8" fill="#ff0000"/>
<line x1="757.14" y1="184.0" x2="757.14" y2="200.0" stroke="#18b4fc" stroke-width="1.15"/>
<rect x="755.64" y="186.0" width="3" height="11.5" fill="#18b4fc"/>
<line x1="760.86" y1="186.0" x2="760.86" y2="215.0" stroke="#ff0000" stroke-width="1.15"/>
<rect x="759.36" y="187.5" width="3" height="17.5" fill="#ff0000"/>
<line x1="764.57" y1="189.0" x2="764.57" y2="207.5" stroke="#18b4fc" stroke-width="1.15"/>
<rect x="763.07" y="194.0" width="3" height="11.0" fill="#18b4fc"/>
<line x1="768.29" y1="186.0" x2="768.29" y2="202.4" stroke="#ff0000" stroke-width="1.15"/>
<rect x="766.79" y="194.2" width="3" height="5.2" fill="#ff0000"/>
</g>
<g fill="#585858">
<rect x="1.85" y="501.50" width="2.5" height="14.75"/>
<rect x="5.56" y="501.50" width="2.5" height="16.00"/>
<rect x="9.28" y="501.50" width="2.5" height="16.00"/>
<rect x="12.99" y="501.50" width="2.5" height="12.25"/>
<rect x="16.71" y="501.50" width="2.5" height="11.00"/>
<rect x="20.43" y="501.50" width="2.5" height="8.50"/>
<rect x="24.14" y="501.50" width="2.5" height="1.00"/>
<rect x="27.86" y="501.50" width="2.5" height="1.50"/>
<rect x="31.57" y="501.50" width="2.5" height="7.25"/>
<rect x="35.29" y="501.50" width="2.5" height="13.50"/>
<rect x="39.00" y="501.50" width="2.5" height="22.25"/>
<rect x="42.71" y="501.50" width="2.5" height="25.50"/>
<rect x="46.43" y="501.50" width="2.5" height="26.75"/>
<rect x="50.15" y="501.50" width="2.5" height="27.25"/>
<rect x="53.86" y="501.50" width="2.5" height="27.25"/>
<rect x="57.57" y="501.50" width="2.5" height="29.00"/>
<rect x="61.29" y="501.50" width="2.5" height="28.50"/>
<rect x="65.00" y="501.50" width="2.5" height="24.75"/>
<rect x="68.72" y="501.50" width="2.5" height="22.25"/>
<rect x="72.43" y="501.50" width="2.5" height="19.75"/>
<rect x="76.15" y="501.50" width="2.5" height="17.25"/>
<rect x="79.86" y="501.50" width="2.5" height="14.75"/>
<rect x="83.58" y="501.50" width="2.5" height="10.50"/>
<rect x="87.29" y="501.50" width="2.5" height="5.50"/>
<rect x="91.01" y="501.50" width="2.5" height="1.00"/>
<rect x="94.72" y="497.00" width="2.5" height="4.50"/>
<rect x="98.44" y="491.75" width="2.5" height="9.75"/>
<rect x="102.15" y="490.50" width="2.5" height="11.00"/>
<rect x="105.87" y="490.50" width="2.5" height="11.00"/>
<rect x="109.58" y="491.50" width="2.5" height="10.00"/>
<rect x="113.30" y="493.75" width="2.5" height="7.75"/>
<rect x="117.01" y="492.00" width="2.5" height="9.50"/>
<rect x="120.73" y="491.25" width="2.5" height="10.25"/>
<rect x="124.44" y="490.75" width="2.5" height="10.75"/>
<rect x="128.16" y="490.75" width="2.5" height="10.75"/>
<rect x="131.88" y="491.25" width="2.5" height="10.25"/>
<rect x="135.59" y="491.75" width="2.5" height="9.75"/>
<rect x="139.30" y="491.75" width="2.5" height="9.75"/>
<rect x="143.02" y="491.25" width="2.5" height="10.25"/>
<rect x="146.73" y="488.00" width="2.5" height="13.50"/>
<rect x="150.45" y="486.00" width="2.5" height="15.50"/>
<rect x="154.16" y="484.50" width="2.5" height="17.00"/>
<rect x="157.88" y="484.00" width="2.5" height="17.50"/>
<rect x="161.59" y="482.50" width="2.5" height="19.00"/>
<rect x="165.31" y="478.75" width="2.5" height="22.75"/>
<rect x="169.02" y="476.75" width="2.5" height="24.75"/>
<rect x="172.74" y="476.75" width="2.5" height="24.75"/>
<rect x="176.45" y="477.50" width="2.5" height="24.00"/>
<rect x="180.17" y="480.75" width="2.5" height="20.75"/>
<rect x="183.88" y="485.50" width="2.5" height="16.00"/>
<rect x="187.60" y="488.75" width="2.5" height="12.75"/>
<rect x="191.31" y="494.50" width="2.5" height="7.00"/>
<rect x="195.03" y="497.00" width="2.5" height="4.50"/>
<rect x="198.74" y="499.50" width="2.5" height="2.00"/>
<rect x="202.46" y="501.50" width="2.5" height="1.00"/>
<rect x="206.17" y="501.50" width="2.5" height="2.75"/>
<rect x="209.89" y="501.50" width="2.5" height="6.00"/>
<rect x="213.60" y="501.50" width="2.5" height="3.50"/>
<rect x="217.32" y="501.50" width="2.5" height="1.00"/>
<rect x="221.03" y="501.50" width="2.5" height="2.25"/>
<rect x="224.75" y="501.50" width="2.5" height="3.50"/>
<rect x="228.46" y="501.50" width="2.5" height="4.75"/>
<rect x="232.18" y="501.50" width="2.5" height="6.50"/>
<rect x="235.89" y="501.50" width="2.5" height="8.50"/>
<rect x="239.61" y="501.50" width="2.5" height="7.25"/>
<rect x="243.32" y="501.50" width="2.5" height="10.50"/>
<rect x="247.04" y="501.50" width="2.5" height="9.00"/>
<rect x="250.75" y="501.50" width="2.5" height="4.75"/>
<rect x="254.47" y="501.50" width="2.5" height="4.00"/>
<rect x="258.19" y="501.50" width="2.5" height="0.90"/>
<rect x="261.90" y="500.00" width="2.5" height="1.50"/>
<rect x="265.62" y="500.00" width="2.5" height="1.50"/>
<rect x="269.33" y="499.25" width="2.5" height="2.25"/>
<rect x="273.05" y="500.50" width="2.5" height="1.00"/>
<rect x="276.76" y="498.25" width="2.5" height="3.25"/>
<rect x="280.48" y="500.75" width="2.5" height="0.90"/>
<rect x="284.19" y="500.50" width="2.5" height="1.00"/>
<rect x="287.91" y="500.00" width="2.5" height="1.50"/>
<rect x="291.62" y="498.00" width="2.5" height="3.50"/>
<rect x="295.34" y="496.25" width="2.5" height="5.25"/>
<rect x="299.05" y="494.50" width="2.5" height="7.00"/>
<rect x="302.76" y="493.00" width="2.5" height="8.50"/>
<rect x="306.48" y="493.00" width="2.5" height="8.50"/>
<rect x="310.19" y="491.25" width="2.5" height="10.25"/>
<rect x="313.91" y="490.25" width="2.5" height="11.25"/>
<rect x="317.62" y="490.25" width="2.5" height="11.25"/>
<rect x="321.34" y="491.25" width="2.5" height="10.25"/>
<rect x="325.06" y="491.25" width="2.5" height="10.25"/>
<rect x="328.77" y="492.50" width="2.5" height="9.00"/>
<rect x="332.49" y="493.75" width="2.5" height="7.75"/>
<rect x="336.20" y="496.25" width="2.5" height="5.25"/>
<rect x="339.92" y="499.50" width="2.5" height="2.00"/>
<rect x="343.63" y="501.50" width="2.5" height="0.90"/>
<rect x="347.35" y="501.50" width="2.5" height="1.00"/>
<rect x="351.06" y="501.50" width="2.5" height="1.75"/>
<rect x="354.78" y="501.50" width="2.5" height="1.75"/>
<rect x="358.49" y="501.50" width="2.5" height="0.90"/>
<rect x="362.20" y="497.00" width="2.5" height="4.50"/>
<rect x="365.92" y="491.25" width="2.5" height="10.25"/>
<rect x="369.63" y="490.00" width="2.5" height="11.50"/>
<rect x="373.35" y="488.75" width="2.5" height="12.75"/>
<rect x="377.06" y="487.00" width="2.5" height="14.50"/>
<rect x="380.78" y="484.50" width="2.5" height="17.00"/>
<rect x="384.50" y="482.50" width="2.5" height="19.00"/>
<rect x="388.21" y="480.75" width="2.5" height="20.75"/>
<rect x="391.93" y="479.25" width="2.5" height="22.25"/>
<rect x="395.64" y="476.50" width="2.5" height="25.00"/>
<rect x="399.36" y="476.50" width="2.5" height="25.00"/>
<rect x="403.07" y="475.75" width="2.5" height="25.75"/>
<rect x="406.79" y="475.00" width="2.5" height="26.50"/>
<rect x="410.50" y="473.75" width="2.5" height="27.75"/>
<rect x="414.22" y="472.00" width="2.5" height="29.50"/>
<rect x="417.93" y="470.00" width="2.5" height="31.50"/>
<rect x="421.64" y="472.00" width="2.5" height="29.50"/>
<rect x="425.36" y="472.50" width="2.5" height="29.00"/>
<rect x="429.07" y="470.00" width="2.5" height="31.50"/>
<rect x="432.79" y="468.25" width="2.5" height="33.25"/>
<rect x="436.50" y="467.50" width="2.5" height="34.00"/>
<rect x="440.22" y="467.50" width="2.5" height="34.00"/>
<rect x="443.94" y="467.50" width="2.5" height="34.00"/>
<rect x="447.65" y="463.25" width="2.5" height="38.25"/>
<rect x="451.37" y="457.50" width="2.5" height="44.00"/>
<rect x="455.08" y="454.50" width="2.5" height="47.00"/>
<rect x="458.80" y="452.00" width="2.5" height="49.50"/>
<rect x="462.51" y="450.00" width="2.5" height="51.50"/>
<rect x="466.23" y="445.50" width="2.5" height="56.00"/>
<rect x="469.94" y="444.25" width="2.5" height="57.25"/>
<rect x="473.66" y="444.25" width="2.5" height="57.25"/>
<rect x="477.37" y="444.25" width="2.5" height="57.25"/>
<rect x="481.08" y="445.50" width="2.5" height="56.00"/>
<rect x="484.80" y="447.50" width="2.5" height="54.00"/>
<rect x="488.51" y="449.50" width="2.5" height="52.00"/>
<rect x="492.23" y="450.00" width="2.5" height="51.50"/>
<rect x="495.94" y="449.50" width="2.5" height="52.00"/>
<rect x="499.66" y="447.50" width="2.5" height="54.00"/>
<rect x="503.38" y="447.00" width="2.5" height="54.50"/>
<rect x="507.09" y="445.50" width="2.5" height="56.00"/>
<rect x="510.80" y="446.25" width="2.5" height="55.25"/>
<rect x="514.52" y="450.00" width="2.5" height="51.50"/>
<rect x="518.24" y="455.75" width="2.5" height="45.75"/>
<rect x="521.95" y="457.00" width="2.5" height="44.50"/>
<rect x="525.66" y="461.25" width="2.5" height="40.25"/>
<rect x="529.38" y="466.25" width="2.5" height="35.25"/>
<rect x="533.10" y="470.00" width="2.5" height="31.50"/>
<rect x="536.81" y="460.00" width="2.5" height="41.50"/>
<rect x="540.52" y="453.25" width="2.5" height="48.25"/>
<rect x="544.24" y="447.00" width="2.5" height="54.50"/>
<rect x="547.96" y="444.25" width="2.5" height="57.25"/>
<rect x="551.67" y="442.00" width="2.5" height="59.50"/>
<rect x="555.38" y="443.00" width="2.5" height="58.50"/>
<rect x="559.10" y="458.25" width="2.5" height="43.25"/>
<rect x="562.82" y="468.00" width="2.5" height="33.50"/>
<rect x="566.53" y="477.00" width="2.5" height="24.50"/>
<rect x="570.25" y="488.75" width="2.5" height="12.75"/>
<rect x="573.96" y="495.50" width="2.5" height="6.00"/>
<rect x="577.67" y="498.00" width="2.5" height="3.50"/>
<rect x="581.39" y="497.00" width="2.5" height="4.50"/>
<rect x="585.11" y="495.75" width="2.5" height="5.75"/>
<rect x="588.82" y="495.00" width="2.5" height="6.50"/>
<rect x="592.53" y="495.75" width="2.5" height="5.75"/>
<rect x="596.25" y="495.00" width="2.5" height="6.50"/>
<rect x="599.97" y="492.00" width="2.5" height="9.50"/>
<rect x="603.68" y="485.75" width="2.5" height="15.75"/>
<rect x="607.39" y="482.00" width="2.5" height="19.50"/>
<rect x="611.11" y="481.25" width="2.5" height="20.25"/>
<rect x="614.83" y="480.00" width="2.5" height="21.50"/>
<rect x="618.54" y="483.00" width="2.5" height="18.50"/>
<rect x="622.25" y="486.25" width="2.5" height="15.25"/>
<rect x="625.97" y="488.75" width="2.5" height="12.75"/>
<rect x="629.68" y="489.50" width="2.5" height="12.00"/>
<rect x="633.40" y="491.75" width="2.5" height="9.75"/>
<rect x="637.12" y="495.50" width="2.5" height="6.00"/>
<rect x="640.83" y="495.00" width="2.5" height="6.50"/>
<rect x="644.54" y="494.25" width="2.5" height="7.25"/>
<rect x="648.26" y="498.00" width="2.5" height="3.50"/>
<rect x="651.98" y="500.00" width="2.5" height="1.50"/>
<rect x="655.69" y="501.50" width="2.5" height="1.00"/>
<rect x="659.40" y="501.50" width="2.5" height="2.25"/>
<rect x="663.12" y="501.50" width="2.5" height="3.50"/>
<rect x="666.84" y="501.50" width="2.5" height="8.00"/>
<rect x="670.55" y="501.50" width="2.5" height="11.00"/>
<rect x="674.26" y="501.50" width="2.5" height="11.00"/>
<rect x="677.98" y="501.50" width="2.5" height="10.50"/>
<rect x="681.70" y="501.50" width="2.5" height="10.50"/>
<rect x="685.41" y="501.50" width="2.5" height="10.50"/>
<rect x="689.12" y="501.50" width="2.5" height="11.00"/>
<rect x="692.84" y="501.50" width="2.5" height="12.25"/>
<rect x="696.55" y="501.50" width="2.5" height="12.25"/>
<rect x="700.27" y="501.50" width="2.5" height="12.25"/>
<rect x="703.99" y="501.50" width="2.5" height="14.25"/>
<rect x="707.70" y="501.50" width="2.5" height="16.75"/>
<rect x="711.41" y="501.50" width="2.5" height="21.75"/>
<rect x="715.13" y="501.50" width="2.5" height="27.75"/>
<rect x="718.85" y="501.50" width="2.5" height="31.00"/>
<rect x="722.56" y="501.50" width="2.5" height="34.00"/>
<rect x="726.27" y="501.50" width="2.5" height="33.00"/>
<rect x="729.99" y="501.50" width="2.5" height="30.50"/>
<rect x="733.71" y="501.50" width="2.5" height="27.25"/>
<rect x="737.42" y="501.50" width="2.5" height="24.75"/>
<rect x="741.13" y="501.50" width="2.5" height="23.50"/>
<rect x="744.85" y="501.50" width="2.5" height="22.25"/>
<rect x="748.56" y="501.50" width="2.5" height="19.75"/>
<rect x="752.28" y="501.50" width="2.5" height="18.50"/>
<rect x="756.00" y="501.50" width="2.5" height="17.25"/>
<rect x="759.71" y="501.50" width="2.5" height="16.50"/>
<rect x="763.42" y="501.50" width="2.5" height="16.00"/>
<rect x="767.14" y="501.50" width="2.5" height="14.75"/>
</g>
<polyline fill="none" stroke="#ff0000" stroke-width="1.15" stroke-dasharray="2.4 1.1" points="3.0,502.5 7.5,508.8 15.0,512.5 25.0,512.0 35.0,510.8 41.2,512.5 50.0,518.8 62.5,526.2 70.0,528.0 80.0,525.0 90.0,518.8 100.0,508.8 110.0,498.8 120.0,493.0 130.0,491.2 142.5,491.2 155.0,488.8 167.5,485.0 180.0,480.8 187.5,480.8 200.0,486.2 212.5,496.2 225.0,502.5 237.5,505.0 250.0,506.8 257.5,508.0 267.5,505.8 280.0,502.0 292.5,500.0 305.0,497.5 315.0,494.5 325.0,492.5 337.5,492.5 350.0,496.2 360.0,499.5 367.5,500.0 377.5,496.2 387.5,488.8 397.5,483.8 412.5,477.5 425.0,474.5 437.5,471.2 447.5,470.0 457.5,465.0 467.5,456.2 477.5,450.0 485.0,447.0 500.0,447.0 512.5,448.0 525.0,451.2 535.0,456.2 543.8,458.2 552.5,455.0 561.2,453.2 568.8,455.8 575.0,462.5 582.5,475.0 590.0,487.5 600.0,495.0 607.5,493.8 617.5,488.8 627.5,485.5 636.2,485.0 645.0,488.8 655.0,494.5 665.0,499.5 675.0,505.0 687.5,510.0 700.0,512.5 712.5,516.2 725.0,523.8 735.0,528.0 742.5,528.8 750.0,527.5 757.5,525.0 767.5,520.5"/>
<rect x="0" y="0" width="2" height="559" fill="#fdf9f8"/>
<rect x="2" y="434" width="961" height="3.8" fill="#6c6c6c"/>
<g stroke="#000" stroke-width="1">
<line x1="2.5" y1="2" x2="2.5" y2="540.6"/>
<line x1="2" y1="2.5" x2="963" y2="2.5"/>
<line x1="962.5" y1="2" x2="962.5" y2="540.6" stroke-width="1.2"/>
<line x1="2" y1="539.75" x2="963.5" y2="539.75" stroke-width="1.8" stroke="#2a2a2a"/>
</g>
<g font-size="9.6" fill="#222">
<line x1="963" y1="33.5" x2="964.6" y2="33.5" stroke="#000" stroke-width="1"/>
<text x="968.00" y="36.84" font-size="9.4" fill="#2a2a2a" textLength="29.5" lengthAdjust="spacingAndGlyphs" >1.25275</text>
<line x1="963" y1="64.1" x2="964.6" y2="64.1" stroke="#000" stroke-width="1"/>
<text x="968.00" y="67.38" font-size="9.4" fill="#2a2a2a" textLength="29.4" lengthAdjust="spacingAndGlyphs" >1.24990</text>
<line x1="963" y1="94.6" x2="964.6" y2="94.6" stroke="#000" stroke-width="1"/>
<text x="968.00" y="97.92" font-size="9.4" fill="#2a2a2a" textLength="27.8" lengthAdjust="spacingAndGlyphs" >1.24705</text>
<line x1="963" y1="125.2" x2="964.6" y2="125.2" stroke="#000" stroke-width="1"/>
<text x="968.00" y="128.46" font-size="9.4" fill="#2a2a2a" textLength="26.6" lengthAdjust="spacingAndGlyphs" >1.24420</text>
<line x1="963" y1="155.7" x2="964.6" y2="155.7" stroke="#000" stroke-width="1"/>
<text x="968.00" y="158.99" font-size="9.4" fill="#2a2a2a" textLength="28.2" lengthAdjust="spacingAndGlyphs" >1.24135</text>
<line x1="963" y1="186.8" x2="964.6" y2="186.8" stroke="#000" stroke-width="1"/>
<text x="968.00" y="190.07" font-size="9.4" fill="#2a2a2a" textLength="27.8" lengthAdjust="spacingAndGlyphs" >1.23845</text>
<line x1="963" y1="217.3" x2="964.6" y2="217.3" stroke="#000" stroke-width="1"/>
<text x="968.00" y="220.61" font-size="9.4" fill="#2a2a2a" textLength="28.2" lengthAdjust="spacingAndGlyphs" >1.23560</text>
<line x1="963" y1="247.8" x2="964.6" y2="247.8" stroke="#000" stroke-width="1"/>
<text x="968.00" y="251.14" font-size="9.4" fill="#2a2a2a" textLength="29.0" lengthAdjust="spacingAndGlyphs" >1.23275</text>
<line x1="963" y1="278.4" x2="964.6" y2="278.4" stroke="#000" stroke-width="1"/>
<text x="968.00" y="281.68" font-size="9.4" fill="#2a2a2a" textLength="29.4" lengthAdjust="spacingAndGlyphs" >1.22990</text>
<line x1="963" y1="308.9" x2="964.6" y2="308.9" stroke="#000" stroke-width="1"/>
<text x="968.00" y="312.22" font-size="9.4" fill="#2a2a2a" textLength="27.8" lengthAdjust="spacingAndGlyphs" >1.22705</text>
<line x1="963" y1="339.5" x2="964.6" y2="339.5" stroke="#000" stroke-width="1"/>
<text x="968.00" y="342.76" font-size="9.4" fill="#2a2a2a" textLength="27.0" lengthAdjust="spacingAndGlyphs" >1.22420</text>
<line x1="963" y1="370.0" x2="964.6" y2="370.0" stroke="#000" stroke-width="1"/>
<text x="968.00" y="373.29" font-size="9.4" fill="#2a2a2a" textLength="28.2" lengthAdjust="spacingAndGlyphs" >1.22135</text>
<line x1="963" y1="401.1" x2="964.6" y2="401.1" stroke="#000" stroke-width="1"/>
<text x="968.00" y="404.37" font-size="9.4" fill="#2a2a2a" textLength="28.2" lengthAdjust="spacingAndGlyphs" >1.21845</text>
<line x1="963" y1="431.6" x2="964.6" y2="431.6" stroke="#000" stroke-width="1"/>
<text x="968.00" y="434.91" font-size="9.4" fill="#2a2a2a" textLength="29.5" lengthAdjust="spacingAndGlyphs" >1.21560</text>
<text x="965.00" y="446.60" font-size="9.4" fill="#2a2a2a" textLength="26.7" lengthAdjust="spacingAndGlyphs" >0.00338</text>
<text x="965.30" y="504.60" font-size="9.4" fill="#2a2a2a" textLength="14.4" lengthAdjust="spacingAndGlyphs" >0.00</text>
<text x="966.00" y="536.90" font-size="9.4" fill="#2a2a2a" textLength="32.6" lengthAdjust="spacingAndGlyphs" >-0.002014</text>
<line x1="963" y1="501.8" x2="964.5" y2="501.8" stroke="#000" stroke-width="1"/>
</g>
<g>
<rect x="965" y="417.3" width="35.0" height="10.2" fill="#ff0000"/>
<text x="968.00" y="425.50" font-size="9.3" fill="#fff" textLength="29.0" lengthAdjust="spacingAndGlyphs" stroke="#fff" stroke-width="0.2">1.21646</text>
<rect x="965" y="366.5" width="35.0" height="10.2" fill="#ff0000"/>
<text x="968.00" y="374.70" font-size="9.3" fill="#fff" textLength="29.0" lengthAdjust="spacingAndGlyphs" stroke="#fff" stroke-width="0.2">1.22114</text>
<rect x="965" y="355.6" width="33.8" height="10.2" fill="#ff0000"/>
<text x="968.00" y="363.80" font-size="9.3" fill="#fff" textLength="27.8" lengthAdjust="spacingAndGlyphs" stroke="#fff" stroke-width="0.2">1.22218</text>
<rect x="965" y="303.7" width="33.0" height="10.2" fill="#ff0000"/>
<text x="968.00" y="311.90" font-size="9.3" fill="#fff" textLength="27.0" lengthAdjust="spacingAndGlyphs" stroke="#fff" stroke-width="0.2">1.22708</text>
<rect x="965" y="241.5" width="34.0" height="10.2" fill="#ff0000"/>
<text x="968.00" y="249.70" font-size="9.3" fill="#fff" textLength="28.0" lengthAdjust="spacingAndGlyphs" stroke="#fff" stroke-width="0.2">1.23289</text>
<rect x="965" y="234.1" width="35.0" height="10.2" fill="#ff0000"/>
<text x="968.00" y="242.30" font-size="9.3" fill="#fff" textLength="29.0" lengthAdjust="spacingAndGlyphs" stroke="#fff" stroke-width="0.2">1.23355</text>
<rect x="965" y="135.5" width="33.0" height="10.2" fill="#ff0000"/>
<text x="968.00" y="143.70" font-size="9.3" fill="#fff" textLength="27.0" lengthAdjust="spacingAndGlyphs" stroke="#fff" stroke-width="0.2">1.24272</text>
<rect x="965" y="64.2" width="35.0" height="10.2" fill="#ff0000"/>
<text x="968.00" y="72.40" font-size="9.3" fill="#fff" textLength="29.0" lengthAdjust="spacingAndGlyphs" stroke="#fff" stroke-width="0.2">1.24937</text>
<rect x="965" y="18.8" width="35.0" height="10.2" fill="#ff0000"/>
<text x="968.00" y="27.00" font-size="9.3" fill="#fff" textLength="29.0" lengthAdjust="spacingAndGlyphs" stroke="#fff" stroke-width="0.2">1.25365</text>
<rect x="965" y="194.3" width="34" height="9.4" fill="#000"/>
<text x="968.00" y="202.20" font-size="9.3" fill="#fff" textLength="28.0" lengthAdjust="spacingAndGlyphs" stroke="#fff" stroke-width="0.2">1.23739</text>
</g>
<g font-size="9.6" fill="#222">
<line x1="3.2" y1="540" x2="3.2" y2="542.8" stroke="#000" stroke-width="1"/>
<text x="2.40" y="551.70" font-size="9.4" fill="#2a2a2a" textLength="42.6" lengthAdjust="spacingAndGlyphs" >17 Jan 2018</text>
<line x1="62.6" y1="540" x2="62.6" y2="542.8" stroke="#000" stroke-width="1"/>
<text x="61.84" y="551.70" font-size="9.4" fill="#2a2a2a" textLength="44.2" lengthAdjust="spacingAndGlyphs" >18 Jan 06:00</text>
<line x1="122.1" y1="540" x2="122.1" y2="542.8" stroke="#000" stroke-width="1"/>
<text x="121.28" y="551.70" font-size="9.4" fill="#2a2a2a" textLength="44.2" lengthAdjust="spacingAndGlyphs" >18 Jan 22:00</text>
<line x1="181.5" y1="540" x2="181.5" y2="542.8" stroke="#000" stroke-width="1"/>
<text x="180.72" y="551.70" font-size="9.4" fill="#2a2a2a" textLength="44.2" lengthAdjust="spacingAndGlyphs" >19 Jan 14:00</text>
<line x1="241.0" y1="540" x2="241.0" y2="542.8" stroke="#000" stroke-width="1"/>
<text x="240.16" y="551.70" font-size="9.4" fill="#2a2a2a" textLength="44.2" lengthAdjust="spacingAndGlyphs" >22 Jan 07:00</text>
<line x1="300.4" y1="540" x2="300.4" y2="542.8" stroke="#000" stroke-width="1"/>
<text x="299.60" y="551.70" font-size="9.4" fill="#2a2a2a" textLength="44.2" lengthAdjust="spacingAndGlyphs" >22 Jan 23:00</text>
<line x1="359.8" y1="540" x2="359.8" y2="542.8" stroke="#000" stroke-width="1"/>
<text x="359.04" y="551.70" font-size="9.4" fill="#2a2a2a" textLength="44.2" lengthAdjust="spacingAndGlyphs" >23 Jan 15:00</text>
<line x1="419.3" y1="540" x2="419.3" y2="542.8" stroke="#000" stroke-width="1"/>
<text x="418.48" y="551.70" font-size="9.4" fill="#2a2a2a" textLength="44.2" lengthAdjust="spacingAndGlyphs" >24 Jan 07:00</text>
<line x1="478.7" y1="540" x2="478.7" y2="542.8" stroke="#000" stroke-width="1"/>
<text x="477.92" y="551.70" font-size="9.4" fill="#2a2a2a" textLength="44.2" lengthAdjust="spacingAndGlyphs" >24 Jan 23:00</text>
<line x1="538.2" y1="540" x2="538.2" y2="542.8" stroke="#000" stroke-width="1"/>
<text x="537.36" y="551.70" font-size="9.4" fill="#2a2a2a" textLength="44.2" lengthAdjust="spacingAndGlyphs" >25 Jan 15:00</text>
<line x1="597.6" y1="540" x2="597.6" y2="542.8" stroke="#000" stroke-width="1"/>
<text x="596.80" y="551.70" font-size="9.4" fill="#2a2a2a" textLength="44.2" lengthAdjust="spacingAndGlyphs" >26 Jan 07:00</text>
<line x1="657.0" y1="540" x2="657.0" y2="542.8" stroke="#000" stroke-width="1"/>
<text x="656.24" y="551.70" font-size="9.4" fill="#2a2a2a" textLength="44.2" lengthAdjust="spacingAndGlyphs" >29 Jan 00:00</text>
<line x1="716.5" y1="540" x2="716.5" y2="542.8" stroke="#000" stroke-width="1"/>
<text x="715.68" y="551.70" font-size="9.4" fill="#2a2a2a" textLength="44.2" lengthAdjust="spacingAndGlyphs" >29 Jan 16:00</text>
</g>
<path d="M5.6 8.3 L12.2 8.3 L8.9 12 Z" fill="#000"/>
<text x="17.00" y="12.70" font-size="9.4" fill="#2a2a2a" textLength="44.0" lengthAdjust="spacingAndGlyphs" >EURUSD,H1</text>
<text x="68.00" y="12.70" font-size="9.4" fill="#2a2a2a" textLength="27.6" lengthAdjust="spacingAndGlyphs" >1.23780</text>
<text x="99.40" y="12.70" font-size="9.4" fill="#2a2a2a" textLength="28.2" lengthAdjust="spacingAndGlyphs" >1.23858</text>
<text x="131.40" y="12.70" font-size="9.4" fill="#2a2a2a" textLength="27.6" lengthAdjust="spacingAndGlyphs" >1.23709</text>
<text x="163.00" y="12.70" font-size="9.4" fill="#2a2a2a" textLength="27.0" lengthAdjust="spacingAndGlyphs" >1.23739</text>
<text x="7.00" y="447.90" font-size="9.4" fill="#2a2a2a" textLength="56.0" lengthAdjust="spacingAndGlyphs" >MACD(12,26,9)</text>
<text x="67.50" y="447.90" font-size="9.4" fill="#2a2a2a" textLength="33.5" lengthAdjust="spacingAndGlyphs" >-0.000815</text>
<text x="105.00" y="447.90" font-size="9.4" fill="#2a2a2a" textLength="36.0" lengthAdjust="spacingAndGlyphs" >-0.000995</text>
</g></svg></body></html>
